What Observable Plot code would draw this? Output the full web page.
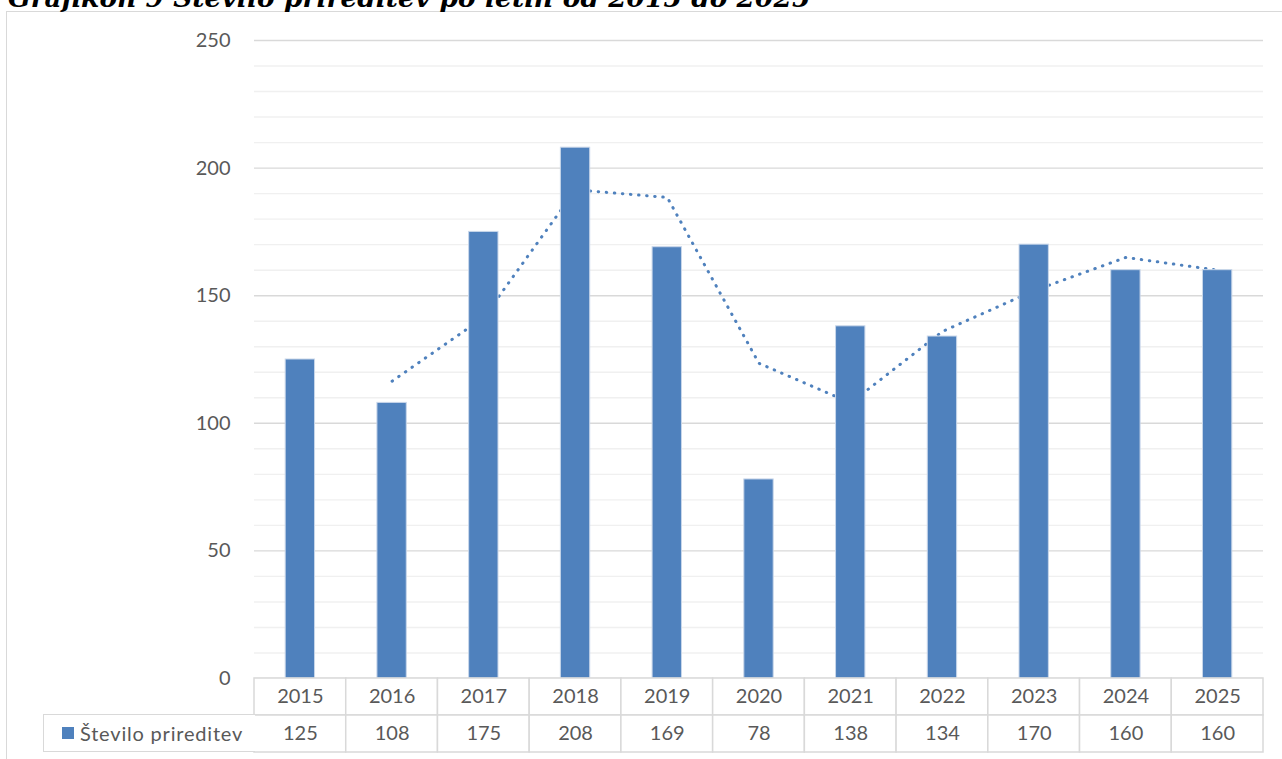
<!DOCTYPE html>
<html>
<head>
<meta charset="utf-8">
<script src="https://cdn.jsdelivr.net/npm/d3@7"></script>
<script src="https://cdn.jsdelivr.net/npm/@observablehq/plot@0.6"></script>
<style>
  html, body { margin: 0; padding: 0; background: white; }
  #page { position: relative; width: 1282px; height: 759px; overflow: hidden; background: white; }
  #title { position: absolute; left: 8px; top: -15px; font-family: "DejaVu Serif", serif; font-weight: bold; font-style: italic; font-size: 26.5px; line-height: 26.5px; color: #000; white-space: nowrap; }
  #frame { position: absolute; left: 6px; top: 11px; width: 1300px; height: 800px; border: 1px solid #d9d9d9; box-sizing: border-box; }
  #main { position: absolute; left: 0; top: 0; }
  #table { position: absolute; left: 0; top: 677px; }
  #legend { position: absolute; left: 43px; top: 714px; width: 212px; height: 38px; border: 1px solid #d9d9d9; border-right: none; box-sizing: border-box; background: white; font-family: Lato, sans-serif; font-size: 20px; letter-spacing: 0.8px; color: #595959; display: flex; align-items: center; }
  #legend .sw { width: 12px; height: 12px; background: #4f81bd; margin-left: 18px; margin-right: 6px; }
</style>
</head>
<body>
<div id="page">
  <div id="frame"></div>
  <div id="title">Grafikon 9 Število prireditev po letih od 2015 do 2025</div>
  <div id="main"></div>
  <div id="table"></div>
  <div id="legend"><span class="sw"></span><span>Število prireditev</span></div>
</div>
<script>
const years = ["2015","2016","2017","2018","2019","2020","2021","2022","2023","2024","2025"];
const counts = [125,108,175,208,169,78,138,134,170,160,160];
const trendYears = ["2016","2017","2018","2019","2020","2021","2022","2023","2024","2025"];
const trendValues = [116.5,141.5,191.5,188.5,123.5,108,136,152,165,160];
const majorTicks = [0,50,100,150,200,250];
const minorTicks = [10,20,30,40,60,70,80,90,110,120,130,140,160,170,180,190,210,220,230,240];
const seriesName = "Število prireditev";
const barColor = "#4f81bd";

const bars = years.map((y, i) => ({year: y, value: counts[i]}));
const trend = trendYears.map((y, i) => ({year: y, value: trendValues[i]}));

const main = Plot.plot({
  width: 1282,
  height: 692,
  marginLeft: 254,
  marginRight: 19,
  marginTop: 40,
  marginBottom: 14,
  style: {background: "transparent", fontFamily: "Lato, sans-serif", fontSize: "20px", color: "#595959", overflow: "visible"},
  x: {domain: years, paddingInner: 0.68, paddingOuter: 0.34, round: false, axis: null},
  y: {domain: [0, 250], ticks: majorTicks, tickSize: 0, tickPadding: 24, label: null},
  marks: [
    Plot.ruleY(minorTicks, {stroke: "#f0f0f0", strokeWidth: 1.4}),
    Plot.ruleY(majorTicks, {stroke: "#d9d9d9", strokeWidth: 1.4}),
    Plot.line(trend, {x: "year", y: "value", stroke: barColor, strokeWidth: 3, strokeDasharray: "0.5 7.6", strokeLinecap: "round"}),
    Plot.barY(bars, {x: "year", y: "value", fill: barColor, stroke: "#c9d7ea", strokeWidth: 1})
  ]
});
document.getElementById("main").appendChild(main);

const rows = [];
years.forEach((y, i) => {
  rows.push({year: y, row: "year", label: y});
  rows.push({year: y, row: "value", label: String(counts[i])});
});

const table = Plot.plot({
  width: 1282,
  height: 76,
  marginLeft: 254,
  marginRight: 19,
  marginTop: 1,
  marginBottom: 1,
  style: {background: "transparent", fontFamily: "Lato, sans-serif", fontSize: "20px", color: "#595959", overflow: "visible"},
  x: {domain: years, padding: 0, round: false, axis: null},
  y: {domain: ["year", "value"], padding: 0, round: false, axis: null},
  marks: [
    Plot.cell(rows, {x: "year", y: "row", fill: "white", stroke: "#d9d9d9", strokeWidth: 1.5, inset: 0}),
    Plot.text(rows, {x: "year", y: "row", text: "label", fill: "#595959", fontSize: 20})
  ]
});
document.getElementById("table").appendChild(table);
</script>
</body>
</html>
